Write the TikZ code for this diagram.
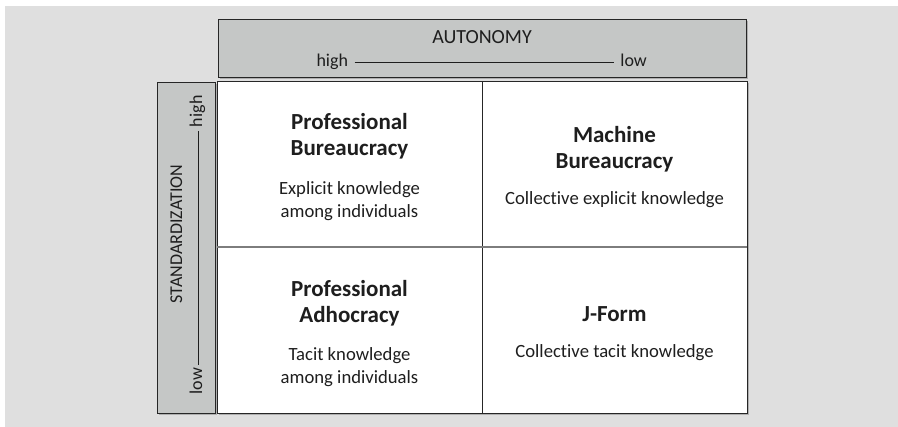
\documentclass[tikz,border=0pt]{standalone}
\usepackage{fontspec}
\setmainfont{Carlito}[Ligatures=NoCommon]

\definecolor{bgGrey}{RGB}{223,223,223}
\definecolor{boxGrey}{RGB}{197,199,198}
\definecolor{shadeGrey}{RGB}{175,175,175}
\definecolor{edgeDark}{RGB}{38,38,38}
\definecolor{midLine}{RGB}{125,125,125}
\definecolor{inkText}{RGB}{30,30,30}

\tikzset{every picture/.style={line width=0.75pt}}
\tikzset{
  axisbox/.style={draw=edgeDark,fill=boxGrey},
  cellbox/.style={draw=edgeDark,fill=white},
  shade/.style={fill=shadeGrey},
  heading/.style={font=\bfseries\fontsize{17.25}{19.5}\selectfont,align=center,text=inkText,inner sep=0pt,anchor=base},
  desc/.style={font=\fontsize{14}{17.25}\selectfont,align=center,text=inkText,inner sep=0pt,anchor=base},
  axislbl/.style={font=\fontsize{13.5}{16}\selectfont,text=inkText,inner sep=0pt},
  rule/.style={draw=inkText,line width=0.6pt}
}

\begin{document}
\begin{tikzpicture}[x=0.75pt,y=0.75pt,yscale=-1,xscale=1]
	\useasboundingbox (0,0) rectangle (898,427);

	%Shape: Rectangle [background]
	\fill [bgGrey] (5,6) rectangle (898,427);

	%Shape: Rectangle [shadows]
	\fill [shade] (219.5,21) rectangle (747.5,79.5);
	\fill [shade] (158.5,84) rectangle (216.5,414.5);
	\fill [shade] (218.5,83.5) rectangle (748.5,414.5);

	%Shape: Rectangle [autonomy axis]
	\draw [axisbox] (218,19.5) rectangle (746,78);
	%Shape: Rectangle [standardization axis]
	\draw [axisbox] (157,82.5) rectangle (215,413);

	%Shape: Rectangle [grid]
	\draw [cellbox] (217,82) rectangle (747,413);
	\draw [edgeDark] (482,82) -- (482,413);
	\draw [midLine,line width=1.5] (217,247.5) -- (747,247.5);

	% autonomy labels
	\node [axislbl,anchor=base,font=\fontsize{15}{16}\selectfont] (auto) at (482,44) {AUTONOMY};
	\node [axislbl,anchor=base west] (autohigh) at (316,66.3) {high};
	\node [axislbl,anchor=base east] (autolow) at (647.3,66.3) {low};
	\draw [rule] ([shift={(6,-4)}]autohigh.base east) -- ([shift={(-6,-4)}]autolow.base west);

	% standardization labels
	\node [axislbl,anchor=base,rotate=90] (stand) at (182,234) {STANDARDIZATION};
	\node [axislbl,anchor=base west,rotate=90] (standlow) at (202,395) {low};
	\node [axislbl,anchor=base east,rotate=90] (standhigh) at (202,95) {high};
	\draw [rule] ([shift={(-4,-3)}]standlow.base east) -- ([shift={(-4,3)}]standhigh.base west);

	% top left
	\node [heading] (pbtitle) at (349.5,156) {Professional\\Bureaucracy};
	\node [desc] (pbtext) at (349.5,218) {Explicit knowledge\\among individuals};
	% top right
	\node [heading] (mbtitle) at (614.5,169) {Machine\\Bureaucracy};
	\node [desc] (mbtext) at (614.5,205) {Collective explicit knowledge};
	% bottom left
	\node [heading] (patitle) at (349.5,322) {Professional\\Adhocracy};
	\node [desc] (patext) at (349.5,383) {Tacit knowledge\\among individuals};
	% bottom right
	\node [heading] (jftitle) at (614.5,321) {J-Form};
	\node [desc] (jftext) at (614.5,357) {Collective tacit knowledge};

\end{tikzpicture}
\end{document}
